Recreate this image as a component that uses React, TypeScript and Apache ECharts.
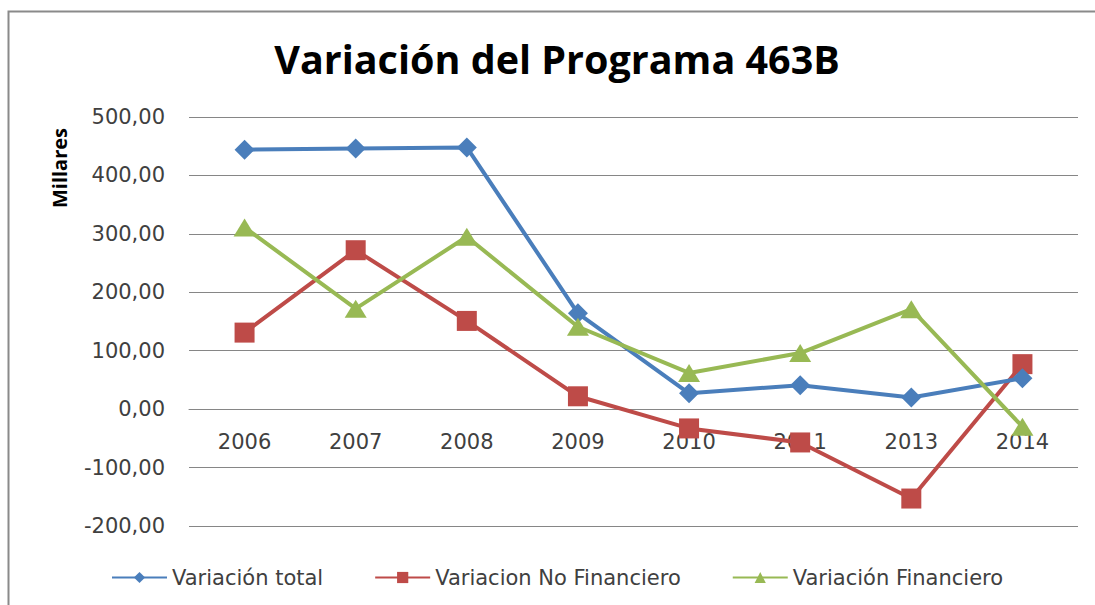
import React, { useEffect, useRef } from "react";
import * as echarts from "echarts";

const categories = ["2006", "2007", "2008", "2009", "2010", "2011", "2013", "2014"];
const variacionTotal = [444, 446, 448, 164, 27, 41, 20, 53];
const variacionNoFinanciero = [131, 272, 151, 22, -33, -57, -153, 77];
const variacionFinanciero = [311, 172, 295, 141, 62, 96, 171, -30];
const seriesNames = ["Variación total", "Variacion No Financiero", "Variación Financiero"];
const titleText = "Variación del Programa 463B";
const yAxisTitle = "Millares";
const yMin = -200;
const yMax = 500;

export default function App() {
  const ref = useRef<HTMLDivElement>(null);
  useEffect(() => {
    if (!ref.current) return;
    const chart = echarts.init(ref.current, undefined, { renderer: "svg" });
    const labelFont = "DejaVu Sans";
    const gridTop = 117;
    const gridBottom = 79;
    const gridHeight = 605 - gridTop - gridBottom;
    const zeroOffset = -(gridHeight * (0 - yMin)) / (yMax - yMin);
    chart.setOption({
      animation: false,
      backgroundColor: "#ffffff",
      grid: { left: 189, right: 17, top: gridTop, bottom: gridBottom, containLabel: false },
      xAxis: {
        type: "category",
        data: categories,
        boundaryGap: true,
        position: "bottom",
        offset: zeroOffset,
        axisLine: { show: true, onZero: false, lineStyle: { color: "#868686", width: 1 } },
        axisTick: { show: false },
        axisLabel: { color: "#404040", fontFamily: labelFont, fontSize: 21, margin: 22 },
        splitLine: { show: false },
      },
      yAxis: {
        type: "value",
        min: yMin,
        max: yMax,
        interval: 100,
        axisLine: { show: false },
        axisTick: { show: false },
        axisLabel: {
          color: "#404040",
          fontFamily: labelFont,
          fontSize: 21,
          margin: 24,
          formatter: (v: number) => v.toFixed(2).replace(".", ","),
        },
        splitLine: { show: true, lineStyle: { color: "#868686", width: 1 } },
      },
      legend: {
        left: 106,
        top: 562,
        itemWidth: 55,
        itemHeight: 14,
        itemGap: 51,
        textStyle: { color: "#404040", fontFamily: labelFont, fontSize: 21 },
        data: seriesNames,
      },
      series: [
        {
          name: seriesNames[0],
          type: "line",
          data: variacionTotal,
          symbol: "diamond",
          symbolSize: 20,
          lineStyle: { width: 4, color: "#4A7EBB" },
          itemStyle: { color: "#4A7EBB" },
          z: 3,
        },
        {
          name: seriesNames[1],
          type: "line",
          data: variacionNoFinanciero,
          symbol: "rect",
          symbolSize: 20,
          lineStyle: { width: 4, color: "#BE4B48" },
          itemStyle: { color: "#BE4B48" },
          z: 2,
        },
        {
          name: seriesNames[2],
          type: "line",
          data: variacionFinanciero,
          symbol: "triangle",
          symbolSize: [22, 18],
          lineStyle: { width: 4, color: "#98B954" },
          itemStyle: { color: "#98B954" },
          z: 4,
        },
      ],
      graphic: [
        {
          type: "rect",
          shape: { x: 8.5, y: 11.5, width: 1200, height: 700 },
          style: { fill: "none", stroke: "#8a8a8a", lineWidth: 2 },
          silent: true,
        },
        {
          type: "text",
          x: 557,
          y: 59,
          style: {
            text: titleText,
            font: "bold 39.5px 'Open Sans'",
            fill: "#000000",
            textAlign: "center",
            textVerticalAlign: "middle",
          },
        },
        {
          type: "text",
          x: 59,
          y: 168,
          rotation: Math.PI / 2,
          style: {
            text: yAxisTitle,
            font: "bold 20px 'Open Sans'",
            fill: "#000000",
            textAlign: "center",
            textVerticalAlign: "middle",
          },
        },
      ],
    });
    return () => chart.dispose();
  }, []);
  return (
    <div
      ref={ref}
      style={{ position: "fixed", left: 0, top: 0, width: 1095, height: 605, background: "#fff" }}
    />
  );
}
